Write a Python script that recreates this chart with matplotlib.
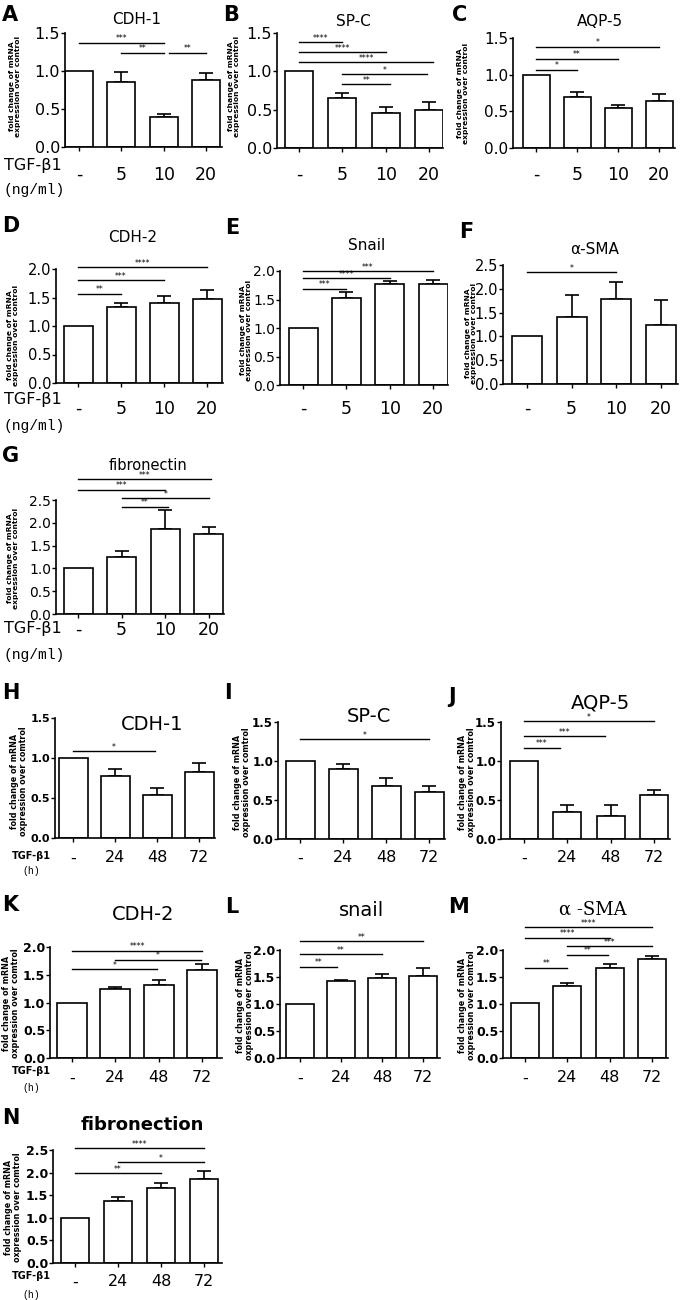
import numpy as np
import matplotlib
matplotlib.use("Agg")
import matplotlib.pyplot as plt
from matplotlib.ticker import FormatStrFormatter
from matplotlib.transforms import blended_transform_factory

plt.rcParams['font.family'] = ['DejaVu Sans']

W, H = 685, 1300

dose_labels = ['-', '5', '10', '20']
time_labels = ['-', '24', '48', '72']

# dose series (A-G): mean, error (upper), significance (from, to, y, stars)
cdh1_dose = [1.0, 0.86, 0.39, 0.88]
cdh1_dose_err = [0, 0.13, 0.05, 0.09]
cdh1_dose_sig = [(0, 2, 1.37, '***'), (1, 2, 1.24, '**'), (2.12, 3, 1.24, '**')]

spc_dose = [1.0, 0.65, 0.46, 0.50]
spc_dose_err = [0, 0.07, 0.08, 0.10]
spc_dose_sig = [(0, 1, 1.38, '****'), (0, 2, 1.25, '****'), (0, 3.1, 1.12, '****'),
                (1, 2.95, 0.96, '*'), (1, 2.1, 0.83, '**')]

aqp5_dose = [1.0, 0.69, 0.55, 0.64]
aqp5_dose_err = [0, 0.08, 0.04, 0.10]
aqp5_dose_sig = [(0, 3, 1.38, '*'), (0, 2, 1.22, '**'), (0, 1, 1.07, '*')]

cdh2_dose = [1.0, 1.34, 1.41, 1.47]
cdh2_dose_err = [0, 0.06, 0.12, 0.17]
cdh2_dose_sig = [(0, 3, 2.03, '****'), (0, 2, 1.80, '***'), (0, 1, 1.57, '**')]

snail_dose = [1.0, 1.53, 1.78, 1.78]
snail_dose_err = [0, 0.10, 0.04, 0.07]
snail_dose_sig = [(0, 3, 2.0, '***'), (0, 2, 1.87, '****'), (0, 1, 1.69, '***')]

sma_dose = [1.0, 1.41, 1.78, 1.24]
sma_dose_err = [0, 0.46, 0.36, 0.52]
sma_dose_sig = [(0, 2, 2.35, '*')]

fn_dose = [1.0, 1.24, 1.86, 1.75]
fn_dose_err = [0, 0.15, 0.41, 0.15]
fn_dose_sig = [(0, 3.05, 2.95, '***'), (0, 2, 2.73, '***'), (1, 3, 2.54, '*'), (1, 2.05, 2.35, '**')]

# time series (H-N)
cdh1_time = [1.0, 0.77, 0.54, 0.82]
cdh1_time_err = [0, 0.09, 0.08, 0.12]
cdh1_time_sig = [(0, 1.95, 1.085, '*')]

spc_time = [1.0, 0.90, 0.68, 0.60]
spc_time_err = [0, 0.06, 0.10, 0.08]
spc_time_sig = [(0, 3, 1.28, '*')]

aqp5_time = [1.0, 0.35, 0.30, 0.56]
aqp5_time_err = [0, 0.08, 0.13, 0.07]
aqp5_time_sig = [(0, 3, 1.51, '*'), (0, 1.88, 1.32, '***'), (0, 0.83, 1.17, '***')]

cdh2_time = [1.0, 1.24, 1.32, 1.59]
cdh2_time_err = [0, 0.04, 0.08, 0.11]
cdh2_time_sig = [(0, 3, 1.93, '****'), (1, 2.97, 1.77, '*'), (0, 1.95, 1.60, '*')]

snail_time = [1.0, 1.43, 1.49, 1.52]
snail_time_err = [0, 0.01, 0.07, 0.14]
snail_time_sig = [(0, 3, 2.16, '**'), (0, 2, 1.92, '**'), (0, 0.9, 1.69, '**')]

sma_time = [1.02, 1.33, 1.66, 1.84]
sma_time_err = [0, 0.06, 0.09, 0.05]
sma_time_sig = [(0, 3, 2.42, '****'), (0, 2, 2.23, '****'), (1, 3, 2.07, '***'),
                (1, 1.97, 1.91, '**'), (0, 1, 1.67, '**')]

fn_time = [1.0, 1.38, 1.67, 1.85]
fn_time_err = [0, 0.07, 0.09, 0.19]
fn_time_sig = [(0, 3, 2.54, '****'), (1, 3, 2.23, '*'), (0, 2, 1.99, '**')]

ylab_dose = 'fold change of mRNA\nexpression over control'
ylab_time = 'fold change of mRNA\noxpression over comtrol'

fig = plt.figure(figsize=(W / 100, H / 100), dpi=100)


def fx(px):
    return px / W


def fy(py):
    return 1 - py / H


def panel(letter, lxy, title, txy, tkw, means, errs, sigs, labels, ymax, box,
          ysize, ybold, ylab, ylxy, ylsize, xrow, xsize):
    axl, axr, top, bot, c0, c3, bwpx = box
    ax = fig.add_axes([fx(axl), fy(bot), (axr - axl) / W, (bot - top) / H])
    s = (c3 - c0) / 3
    x = np.arange(len(means))
    ax.bar(x, means, width=bwpx / s, color='white', edgecolor='black', linewidth=1.2, zorder=2)
    ax.errorbar(x[1:], means[1:], yerr=[np.zeros(len(x) - 1), errs[1:]], fmt='none',
                ecolor='black', elinewidth=1.2, capsize=5, capthick=1.2, zorder=1)
    ax.set_xlim(-(c0 - axl) / s, 3 + (axr - c3) / s)
    ax.set_ylim(0, ymax)
    ax.set_yticks(np.arange(0, ymax + 0.01, 0.5))
    ax.yaxis.set_major_formatter(FormatStrFormatter('%.1f'))
    ax.set_xticks(x)
    ax.tick_params(axis='x', length=3, width=1, labelbottom=False)
    ax.tick_params(axis='y', length=3, width=1, labelsize=ysize, pad=0.5)
    if ybold:
        for t in ax.get_yticklabels():
            t.set_fontweight('bold')
    for sp in ['top', 'right']:
        ax.spines[sp].set_visible(False)
    for sp in ['left', 'bottom']:
        ax.spines[sp].set_linewidth(1.2)

    for a, b, y, st in sigs:
        ax.plot([a, b], [y, y], color='black', lw=1.0, clip_on=False)
        ax.annotate(st, ((a + b) / 2, y), xytext=(0, 1.0), textcoords='offset points',
                    ha='center', va='baseline', fontsize=5.5, annotation_clip=False)

    tr = blended_transform_factory(ax.transData, fig.transFigure)
    for i, lab in enumerate(labels):
        ax.text(i, fy(xrow), lab, transform=tr, ha='center', va='center', fontsize=xsize)

    fig.text(fx(lxy[0]), fy(lxy[1]), letter, fontsize=15, fontweight='bold', va='center', ha='left')
    fig.text(fx(txy[0]), fy(txy[1]), title, ha='center', va='center', **tkw)
    fig.text(fx(ylxy[0]), fy(ylxy[1]), ylab, rotation=90, ha='center', va='center',
             fontsize=ylsize, fontweight='bold', linespacing=1.0)
    return ax


dose_kw = dict(ybold=False, ylab=ylab_dose, ylsize=5.4, xsize=12.5, labels=dose_labels)
tsz = dict(fontsize=11)

panel('A', (2, 15), 'CDH-1', (137, 20), tsz, cdh1_dose, cdh1_dose_err, cdh1_dose_sig,
      ymax=1.5, box=(65, 222, 33, 147, 79, 206, 28), ysize=11.5, ylxy=(15, 86), xrow=175, **dose_kw)
panel('B', (223, 15), 'SP-C', (353, 21), tsz, spc_dose, spc_dose_err, spc_dose_sig,
      ymax=1.5, box=(277, 443, 33, 148, 299, 429, 28), ysize=11.5, ylxy=(234, 86), xrow=175, **dose_kw)
panel('C', (452, 15), 'AQP-5', (600, 21), tsz, aqp5_dose, aqp5_dose_err, aqp5_dose_sig,
      ymax=1.5, box=(513, 675, 38, 148, 536, 659, 27), ysize=11, ylxy=(463, 93), xrow=175, **dose_kw)

panel('D', (2, 226), 'CDH-2', (133, 237), tsz, cdh2_dose, cdh2_dose_err, cdh2_dose_sig,
      ymax=2.0, box=(56, 223, 269, 383, 78, 207, 29), ysize=10.5, ylxy=(13, 335), xrow=409, **dose_kw)
panel('E', (225, 228), 'Snail', (367, 246), tsz, snail_dose, snail_dose_err, snail_dose_sig,
      ymax=2.0, box=(280, 448, 271, 385, 303, 433, 29), ysize=10, ylxy=(246, 330), xrow=409, **dose_kw)
panel('F', (459, 232), 'α-SMA', (595, 249), tsz, sma_dose, sma_dose_err, sma_dose_sig,
      ymax=2.5, box=(503, 678, 265, 384, 527, 661, 30), ysize=10.5, ylxy=(471, 333), xrow=409, **dose_kw)

panel('G', (2, 456), 'fibronectin', (148, 465), dict(fontsize=10.5), fn_dose, fn_dose_err, fn_dose_sig,
      ymax=2.5, box=(56, 224, 500, 614, 78, 209, 29), ysize=10, ylxy=(13, 558), xrow=630, **dose_kw)

time_kw = dict(ybold=True, ylab=ylab_time, ylsize=5.8, xsize=11.5, labels=time_labels)
big = dict(fontsize=14)

panel('H', (2, 693), 'CDH-1', (152, 725), big, cdh1_time, cdh1_time_err, cdh1_time_sig,
      ymax=1.5, box=(55, 215, 718, 838, 73, 199, 29), ysize=8, ylxy=(19, 781), xrow=858, **time_kw)
panel('I', (224, 693), 'SP-C', (369, 717), big, spc_time, spc_time_err, spc_time_sig,
      ymax=1.5, box=(278, 445, 722, 839, 300, 429, 29), ysize=8.5, ylxy=(242, 782), xrow=858, **time_kw)
panel('J', (448, 697), 'AQP-5', (600, 703), big, aqp5_time, aqp5_time_err, aqp5_time_sig,
      ymax=1.5, box=(501, 670, 722, 839, 524, 654, 28), ysize=8.5, ylxy=(467, 782), xrow=858, **time_kw)

panel('K', (2, 905), 'CDH-2', (143, 915), big, cdh2_time, cdh2_time_err, cdh2_time_sig,
      ymax=2.0, box=(50, 222, 947, 1058, 72, 202, 30), ysize=9, ylxy=(11, 1003), xrow=1078, **time_kw)
panel('L', (225, 907), 'snail', (362, 910), big, snail_time, snail_time_err, snail_time_sig,
      ymax=2.0, box=(280, 440, 950, 1058, 300, 423, 28), ysize=9, ylxy=(245, 1005), xrow=1078, **time_kw)
panel('M', (448, 907), 'α -SMA', (593, 910), dict(fontsize=13, family='DejaVu Serif'),
      sma_time, sma_time_err, sma_time_sig,
      ymax=2.0, box=(503, 668, 950, 1058, 525, 652, 28), ysize=9, ylxy=(467, 1005), xrow=1078, **time_kw)

panel('N', (2, 1118), 'fibronection', (142, 1125), dict(fontsize=13, fontweight='bold'),
      fn_time, fn_time_err, fn_time_sig,
      ymax=2.5, box=(53, 222, 1150, 1263, 75, 204, 28), ysize=9, ylxy=(13, 1207), xrow=1282, **time_kw)

# treatment row labels
for yy in (158, 392, 621):
    fig.text(fx(4), fy(yy), 'TGF-β1', fontsize=11.5, va='top', ha='left')
for yy in (190, 426, 655):
    fig.text(fx(3), fy(yy), '(ng/ml)', fontsize=10.5, va='center', ha='left', family='Liberation Mono')
for yy in (856, 1071, 1276):
    fig.text(fx(12), fy(yy), 'TGF-β1', fontsize=7, fontweight='bold', va='center', ha='left')
for yy in (871, 1088, 1295):
    fig.text(fx(22), fy(yy), '(h)', fontsize=7, va='center', ha='left', family='Liberation Mono')

fig.savefig('out.png', dpi=100, facecolor='white')
